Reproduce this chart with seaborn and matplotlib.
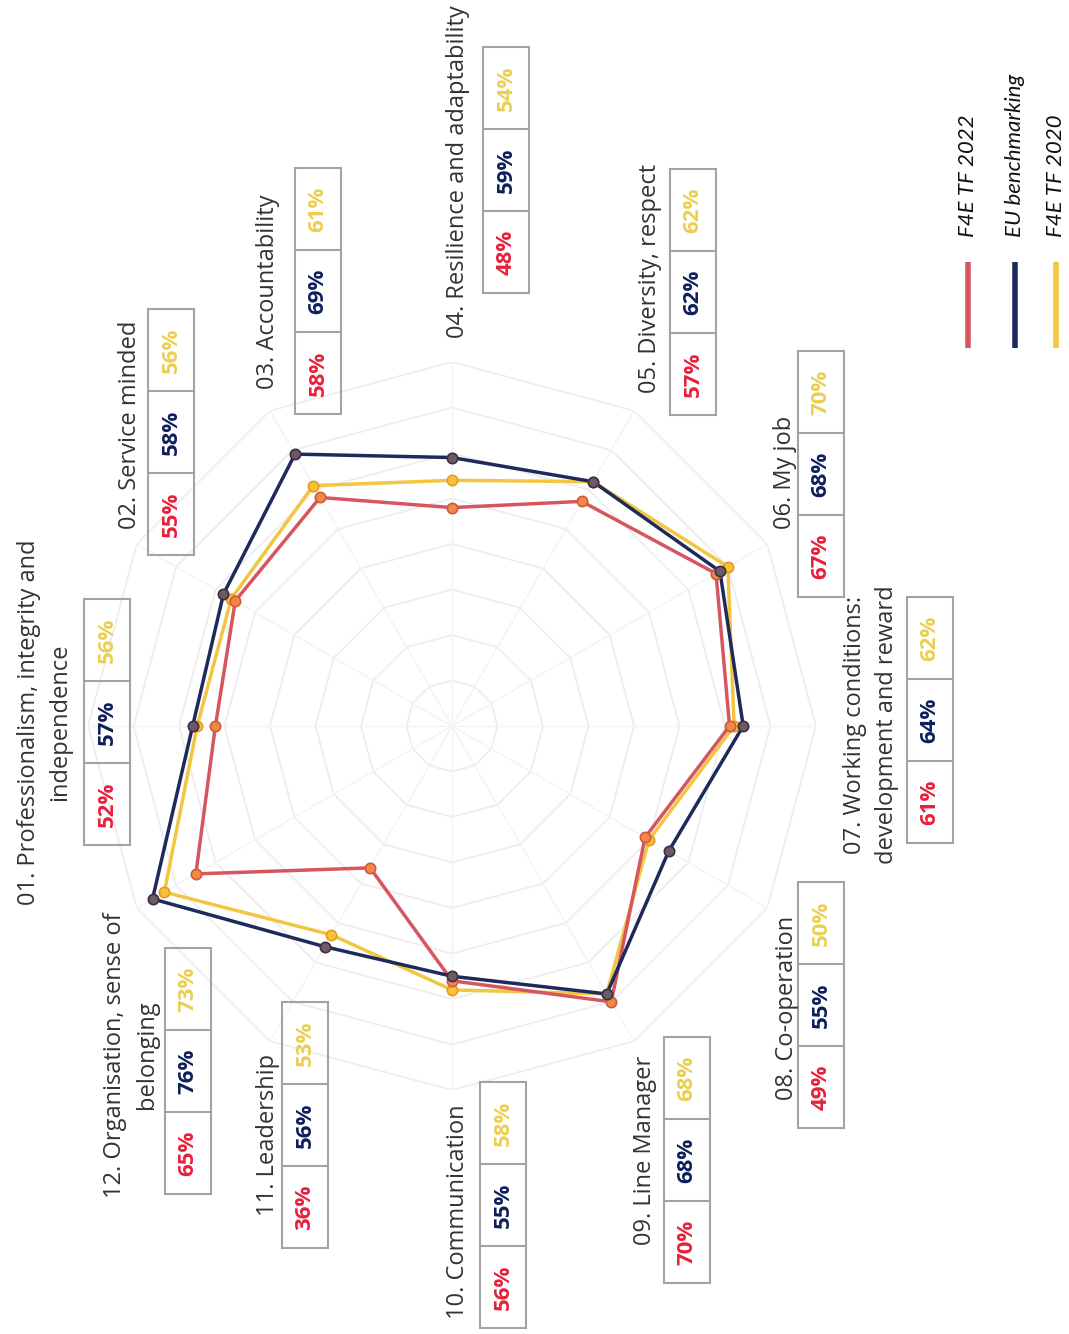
import numpy as np
import pandas as pd
import matplotlib.pyplot as plt
import seaborn as sns
from matplotlib.patches import Rectangle
from matplotlib.lines import Line2D

# Categorias do radar
categories = [
    "01. Professionalism, integrity and\nindependence",
    "02. Service minded",
    "03. Accountability",
    "04. Resilience and adaptability",
    "05. Diversity, respect",
    "06. My job",
    "07. Working conditions:\ndevelopment and reward",
    "08. Co-operation",
    "09. Line Manager",
    "10. Communication",
    "11. Leadership",
    "12. Organisation, sense of\nbelonging",
]

# Valores (%)
tf2022 = [52, 55, 58, 48, 57, 67, 61, 49, 70, 56, 36, 65]
eu_bench = [57, 58, 69, 59, 62, 68, 64, 55, 68, 55, 56, 76]
tf2020 = [56, 56, 61, 54, 62, 70, 62, 50, 68, 58, 53, 73]

series_names = ["F4E TF 2022", "EU benchmarking", "F4E TF 2020"]
ring_levels = [10, 20, 30, 40, 50, 60, 70, 80]

# Estilo
line_colors = {"F4E TF 2022": "#d6565f", "EU benchmarking": "#1e2a5c", "F4E TF 2020": "#f2c640"}
marker_face = {"F4E TF 2022": "#f08848", "EU benchmarking": "#6e5a62", "F4E TF 2020": "#f5c232"}
marker_edge = {"F4E TF 2022": "#cf5a3a", "EU benchmarking": "#3a2e44", "F4E TF 2020": "#e59a28"}
text_colors = {"F4E TF 2022": "#e8203a", "EU benchmarking": "#0d1f5c", "F4E TF 2020": "#ebcf50"}

W, H = 1069, 1334

# Posições (pixels) dos rótulos e das caixas
label_pos = [(45, 722), (130, 425), (268, 292), (458, 172), (650, 278), (785, 472),
             (871, 725), (787, 1008), (645, 1150), (458, 1212), (268, 1135), (131, 1055)]
box_pos = [(107, 722), (171, 432), (318, 291), (506, 170), (693, 292), (821, 474),
           (930, 720), (821, 1005), (687, 1160), (503, 1205), (305, 1125), (188, 1071)]

sns.set_theme(style="white")
plt.rcParams["font.family"] = ["Open Sans", "DejaVu Sans"]

fig = plt.figure(figsize=(W / 100, H / 100), dpi=100)
cx, cy, R = 452, 726, 364
ax = fig.add_axes([(cx - R) / W, (H - cy - R) / H, 2 * R / W, 2 * R / H], projection="polar")
ax.set_theta_zero_location("W")
ax.set_theta_direction(-1)
ax.set_ylim(0, 80)
ax.axis("off")

n = len(categories)
angles = np.arange(n) * 2 * np.pi / n
closed = np.append(angles, angles[0] + 2 * np.pi)

# Grade poligonal
for r in ring_levels:
    ax.plot(closed, [r] * (n + 1), color="#eeeeee", lw=1.4, zorder=1)
for a in angles:
    ax.plot([a, a], [0, ring_levels[-1]], color="#f3f3f3", lw=1.0, zorder=1)

# Dados em formato longo
values = {"F4E TF 2022": tf2022, "EU benchmarking": eu_bench, "F4E TF 2020": tf2020}
rows = []
for name in series_names:
    v = values[name]
    for i, t in enumerate(closed):
        rows.append({"series": name, "theta": t, "value": v[i % n], "order": i})
df = pd.DataFrame(rows)

draw_order = ["F4E TF 2020", "F4E TF 2022", "EU benchmarking"]
for k, name in enumerate(draw_order):
    sub = df[df["series"] == name]
    sns.lineplot(data=sub, x="theta", y="value", sort=False, estimator=None,
                 color=line_colors[name], lw=2.5, ax=ax, legend=False, zorder=3 + k)
    pts = sub[sub["order"] < n]
    ax.scatter(pts["theta"], pts["value"], s=55, color=marker_face[name],
               edgecolor=marker_edge[name], linewidth=1.2, zorder=6 + k)
ax.set_ylim(0, 80)

# Rótulos das categorias (girados)
for (lx, ly), cat in zip(label_pos, categories):
    fig.text(lx / W, 1 - ly / H, cat, rotation=90, ha="center", va="center",
             multialignment="center", fontsize=17, color="#333333", linespacing=1.4)

# Caixas com percentagens
bw, ch = 46, 82
for i, (bx, by) in enumerate(box_pos):
    x0 = bx - bw / 2
    y_top = by - 1.5 * ch
    fig.add_artist(Rectangle((x0 / W, 1 - (y_top + 3 * ch) / H), bw / W, 3 * ch / H,
                             transform=fig.transFigure, fill=False, ec="#a3a3a3", lw=1.5))
    for j in (1, 2):
        yy = 1 - (y_top + j * ch) / H
        fig.add_artist(Line2D([x0 / W, (x0 + bw) / W], [yy, yy], transform=fig.transFigure,
                              color="#a3a3a3", lw=1.5))
    # de baixo para cima: 2022, EU, 2020
    for j, name in enumerate(series_names):
        yc = by + ch - j * ch
        fig.text(bx / W, 1 - yc / H, f"{values[name][i]}%", rotation=90, ha="center",
                 va="center", fontsize=16, fontweight="bold", color=text_colors[name])

# Legenda manual (girada)
leg_x = [968, 1015, 1056]
for name, lx in zip(series_names, leg_x):
    fig.add_artist(Line2D([lx / W, lx / W], [1 - 262 / H, 1 - 348 / H], transform=fig.transFigure,
                          color=line_colors[name], lw=4, solid_capstyle="butt"))
    fig.text(lx / W, 1 - 237 / H, name, rotation=90, rotation_mode="anchor", ha="left",
             va="center", fontsize=16, fontstyle="italic", color="#111111", family=["Lato", "DejaVu Sans"])

fig.savefig("out.png", dpi=100)
